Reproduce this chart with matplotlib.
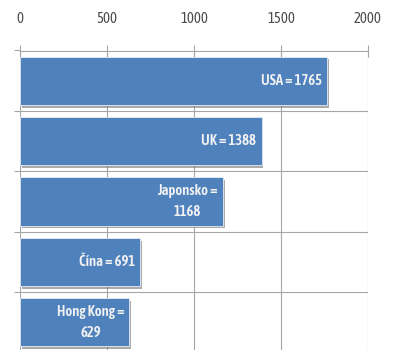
import matplotlib.pyplot as plt
import matplotlib.patheffects as pe
import numpy as np

# labels shown inside the bars
countries = ['USA', 'UK', 'Japonsko', 'Čína', 'Hong Kong']
values = [1765, 1388, 1168, 691, 629]
wrap = [False, False, True, False, True]
xticks = [0, 500, 1000, 1500, 2000]

plt.rcParams['font.family'] = ['Asap Condensed', 'Noto Sans', 'DejaVu Sans']

fig = plt.figure(figsize=(3.93, 3.5), dpi=100)
ax = fig.add_axes([20 / 393, -2.5 / 350, 348 / 393, 302 / 350])

y = np.arange(len(countries))
bars = ax.barh(y, values, height=0.8, color='#4f81bd', edgecolor='#e6edf6',
               linewidth=0.6, zorder=3)
for b in bars:
    b.set_path_effects([pe.SimplePatchShadow(offset=(1.4, -2.0), shadow_rgbFace='#7f7f7f', alpha=0.65),
                        pe.Normal()])

ax.set_xlim(0, 2000)
ax.set_ylim(len(countries) - 0.5, -0.5)

# value labels, right aligned inside the bar end
for yi, name, v, w in zip(y, countries, values, wrap):
    txt = f'{name} =\n{v}' if w else f'{name} = {v}'
    ax.annotate(txt, xy=(v, yi), xytext=(-3.8, 0), textcoords='offset points',
                ha='right', va='center', multialignment='center',
                color='#f2f2f2', fontsize=10.5, fontweight='semibold',
                linespacing=1.65, zorder=4)

# top value axis
ax.xaxis.tick_top()
ax.set_xticks(xticks)
ax.tick_params(axis='x', direction='inout', length=9, width=0.8, color='#a6a6a6',
               labelsize=10.5, labelcolor='#4a4a4a', pad=13)
ax.grid(axis='x', color='#a6a6a6', linewidth=0.8, zorder=0)

# category boundaries
ax.set_yticks(y)
ax.set_yticklabels([])
ax.set_yticks(np.arange(len(countries) + 1) - 0.5, minor=True)
ax.tick_params(axis='y', which='major', length=0)
ax.tick_params(axis='y', which='minor', direction='out', length=4, width=0.8, color='#a6a6a6')
ax.grid(axis='y', which='minor', color='#a6a6a6', linewidth=0.8, zorder=0)

for side in ['left', 'right', 'bottom']:
    ax.spines[side].set_visible(False)
ax.spines['top'].set_color('#a6a6a6')
ax.spines['top'].set_linewidth(0.8)

fig.savefig('out.png', dpi=100)
